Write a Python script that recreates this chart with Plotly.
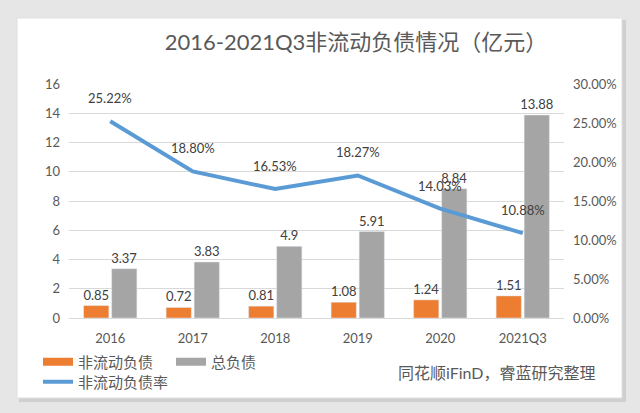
import plotly.graph_objects as go

categories = ["2016", "2017", "2018", "2019", "2020", "2021Q3"]
noncurrent_debt = [0.85, 0.72, 0.81, 1.08, 1.24, 1.51]
total_debt = [3.37, 3.83, 4.9, 5.91, 8.84, 13.88]
noncurrent_ratio = [0.2522, 0.1880, 0.1653, 0.1827, 0.1403, 0.1088]

ORANGE = "#ED7D31"
GREY = "#A5A5A5"
BLUE = "#5B9BD5"
TXT = "#595959"
LBL = "#404040"
FONT = "Lato, Noto Sans CJK SC, sans-serif"
CJK = "Noto Sans CJK SC, sans-serif"

W, H = 640, 413
L, R, T, B = 69, 76, 84, 95
PW, PH = W - L - R, H - T - B

xpos = list(range(len(categories)))


def px(x):
    return (x - L) / PW


def py(y):
    return (H - B - y) / PH


fig = go.Figure()

fig.add_trace(go.Bar(
    x=xpos, y=noncurrent_debt, name="非流动负债", marker_color=ORANGE,
    texttemplate="%{y}", textposition="outside", constraintext="none",
    textfont=dict(size=13, color=LBL, family=FONT), cliponaxis=False,
    showlegend=False, legendgroup="a",
))
fig.add_trace(go.Bar(
    x=xpos, y=total_debt, name="总负债", marker_color=GREY,
    texttemplate="%{y}", textposition="outside", constraintext="none",
    textfont=dict(size=13, color=LBL, family=FONT), cliponaxis=False,
    showlegend=False, legendgroup="b",
))
fig.add_trace(go.Scatter(
    x=xpos, y=noncurrent_ratio, name="非流动负债率", yaxis="y2",
    mode="lines", line=dict(color=BLUE, width=4), legend="legend2",
))
# legend swatches drawn as wide bands like the original
fig.add_trace(go.Scatter(x=[0], y=[None], mode="lines", name="非流动负债",
                         line=dict(color=ORANGE, width=8), legendgroup="a"))
fig.add_trace(go.Scatter(x=[0], y=[None], mode="lines", name="总负债",
                         line=dict(color=GREY, width=8), legendgroup="b"))

for xp, r in zip(xpos, noncurrent_ratio):
    fig.add_annotation(x=xp, xref="x", y=r, yref="y2", text=f"{r*100:.2f}%", showarrow=False,
                       yshift=23, font=dict(size=13, color=LBL, family=FONT))

fig.add_annotation(xref="paper", yref="paper", x=px(497), y=py(372), text="同花顺iFinD，睿蓝研究整理",
                   showarrow=False, font=dict(size=16, color=TXT, family=FONT),
                   xanchor="center", yanchor="middle")

# card background
fig.add_shape(type="rect", xref="paper", yref="paper", layer="below",
              x0=px(19), x1=px(626), y0=py(402), y1=py(20),
              fillcolor="#cfcfcf", line=dict(width=0))
fig.add_shape(type="rect", xref="paper", yref="paper", layer="below",
              x0=px(17), x1=px(622), y0=py(398), y1=py(18),
              fillcolor="white", line=dict(color="#e0e0e0", width=1))

fig.update_layout(
    width=W, height=H,
    margin=dict(l=L, r=R, t=T, b=B),
    paper_bgcolor="#e6e6e6", plot_bgcolor="rgba(0,0,0,0)",
    font=dict(family=FONT, color=TXT),
    title=dict(text="2016-2021Q3非流动负债情况（亿元）", x=356 / W, xanchor="center",
               y=1 - 42 / H, yanchor="middle", font=dict(size=22, color=TXT, family=FONT)),
    barmode="group", bargap=0.32, bargroupgap=0.1,
    xaxis=dict(range=[-0.5, len(categories) - 0.5], tickmode="array", tickvals=xpos,
               ticktext=categories, showgrid=False, zeroline=False, ticks="",
               tickfont=dict(size=13, color=TXT), showline=True, linecolor="#d9d9d9",
               ticklabelstandoff=8),
    yaxis=dict(range=[0, 16], dtick=2, showgrid=True, gridcolor="#d9d9d9", gridwidth=1,
               zeroline=False, tickfont=dict(size=13, color=TXT), ticklabelstandoff=8),
    yaxis2=dict(range=[0, 0.30], dtick=0.05, tickformat=".2%", overlaying="y", side="right",
                showgrid=False, zeroline=False, tickfont=dict(size=13, color=TXT),
                ticklabelstandoff=8),
    legend=dict(orientation="h", x=px(38), xanchor="left", y=py(362), yanchor="middle",
                font=dict(size=15, color=TXT, family=CJK), bgcolor="rgba(0,0,0,0)",
                entrywidth=88, itemwidth=30),
    legend2=dict(orientation="h", x=px(38), xanchor="left", y=py(382), yanchor="middle",
                 font=dict(size=15, color=TXT, family=CJK), bgcolor="rgba(0,0,0,0)",
                 itemwidth=30),
)

fig.write_html("out.html", config={"displayModeBar": False},
               post_script="document.body.style.margin='0';")
